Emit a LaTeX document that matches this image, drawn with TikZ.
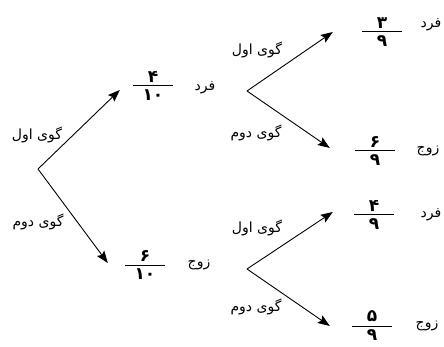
\documentclass[tikz,border=0pt]{standalone}
\usepackage{fontspec}
\newfontfamily\arabicfont[Script=Arabic]{DejaVu Sans}
\TeXXeTstate=1
\usetikzlibrary{arrows.meta,positioning}

\newcommand{\fa}[1]{{\arabicfont\beginR #1\endR}}

\begin{document}
\begin{tikzpicture}[x=1pt,y=-1pt,
    branch/.style={-{Stealth[length=12pt,width=9pt,inset=2pt]}, line width=0.9pt},
    fracbar/.style={inner sep=0pt, minimum width=40pt, minimum height=1pt, fill=black},
    digit/.style={font=\arabicfont\bfseries\fontsize{17}{19}\selectfont, inner sep=0pt, label distance=3pt},
    choice/.style={font=\fontsize{14}{16}\selectfont, inner sep=1pt}]
    \useasboundingbox (0,0) rectangle (444,347);

    % First draw
    \coordinate (o) at (38,169);
    \node[fracbar, label={[digit]above:\fa{۴}}, label={[digit]below:\fa{۱۰}}] (f1) at (153,86) {};
    \node[fracbar, label={[digit]above:\fa{۶}}, label={[digit]below:\fa{۱۰}}] (f2) at (145,265) {};
    \node[choice] (odd1) at (205,88) {\fa{فرد}};
    \node[choice] (even1) at (199,265) {\fa{زوج}};

    \draw[branch] (o) -- ([shift={(-13,4)}]f1.west);
    \draw[branch] (o) -- ([shift={(-17,-2)}]f2.west);
    \node[choice] (b1) at (37,135) {\fa{گوی اول}};
    \node[choice] (b2) at (38,222) {\fa{گوی دوم}};

    % Second draw, after an odd ball
    \coordinate (r1) at (247,91);
    \node[fracbar, label={[digit]above:\fa{۳}}, label={[digit]below:\fa{۹}}] (f3) at (382,32) {};
    \node[fracbar, label={[digit]above:\fa{۶}}, label={[digit]below:\fa{۹}}] (f4) at (375,151) {};
    \node[choice] (odd2) at (431,25) {\fa{فرد}};
    \node[choice] (even2) at (428,151) {\fa{زوج}};

    \draw[branch] (r1) -- ([shift={(-29,0)}]f3.west);
    \draw[branch] (r1) -- ([shift={(-25,-3)}]f4.west);
    \node[choice] (b3) at (257,50) {\fa{گوی اول}};
    \node[choice] (b4) at (256,133) {\fa{گوی دوم}};

    % Second draw, after an even ball
    \coordinate (r2) at (247,269);
    \node[fracbar, label={[digit]above:\fa{۴}}, label={[digit]below:\fa{۹}}] (f5) at (374,215) {};
    \node[fracbar, label={[digit]above:\fa{۵}}, label={[digit]below:\fa{۹}}] (f6) at (372,326) {};
    \node[choice] (odd3) at (431,215) {\fa{فرد}};
    \node[choice] (even3) at (427,326) {\fa{زوج}};

    \draw[branch] (r2) -- ([shift={(-21,-3)}]f5.west);
    \draw[branch] (r2) -- ([shift={(-22,0)}]f6.west);
    \node[choice] (b5) at (257,228) {\fa{گوی اول}};
    \node[choice] (b6) at (256,307) {\fa{گوی دوم}};
\end{tikzpicture}
\end{document}
